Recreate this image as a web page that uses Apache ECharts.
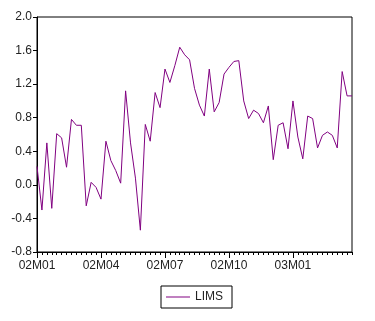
<!DOCTYPE html>
<html>
<head>
<meta charset="utf-8">
<script src="https://cdn.jsdelivr.net/npm/echarts@6/dist/echarts.min.js"></script>
<style>
  html, body { margin: 0; padding: 0; background: #fff; }
  #chart { width: 375px; height: 321px; }
</style>
</head>
<body>
<div id="chart"></div>
<script>
// weekly observations, 2002 week 1 .. 2003 week 13
const weeks = [];
for (let i = 0; i < 65; i++) weeks.push('w' + i);

const labelIdx = [0, 13, 26, 39, 52];
const tickLabels = ['02M01', '02M04', '02M07', '02M10', '03M01'];

const lims = [
    0.22, -0.30, 0.50, -0.28, 0.61, 0.56, 0.21, 0.78, 0.71, 0.71,
    -0.25, 0.03, -0.03, -0.17, 0.52, 0.29, 0.17, 0.02, 1.12, 0.50,
    0.08, -0.54, 0.72, 0.52, 1.10, 0.92, 1.38, 1.22, 1.42, 1.64,
    1.55, 1.49, 1.15, 0.95, 0.82, 1.38, 0.87, 0.98, 1.32, 1.40,
    1.47, 1.48, 1.00, 0.79, 0.89, 0.85, 0.74, 0.94, 0.30, 0.71,
    0.74, 0.43, 1.00, 0.57, 0.31, 0.82, 0.79, 0.44, 0.59, 0.63,
    0.59, 0.44, 1.35, 1.06, 1.06
];

const chart = echarts.init(document.getElementById('chart'));
const font = 'Liberation Sans, Arial, sans-serif';

chart.setOption({
    animation: false,
    grid: {
        left: 37, right: 23, top: 17, height: 235,
        show: true, borderColor: '#000', borderWidth: 1
    },
    legend: {
        data: ['LIMS'],
        left: 161, top: 286,
        itemWidth: 24, itemHeight: 1,
        itemGap: 6,
        padding: [5, 9, 5, 5],
        borderColor: '#000', borderWidth: 1, borderRadius: 0,
        icon: 'rect',
        textStyle: { fontFamily: font, fontSize: 12, color: '#222' }
    },
    xAxis: [
        {
            type: 'category',
            data: weeks,
            boundaryGap: false,
            axisLine: { onZero: false, lineStyle: { color: '#000' } },
            axisTick: { interval: 0, length: 3, lineStyle: { color: '#000' } },
            axisLabel: {
                interval: (i) => labelIdx.includes(i),
                formatter: (v, i) => tickLabels[labelIdx.indexOf(i)] || '',
                margin: 8,
                fontFamily: font, fontSize: 12, color: '#222'
            },
            splitLine: { show: false }
        },
        {
            type: 'category',
            data: weeks,
            boundaryGap: false,
            position: 'bottom',
            axisLine: { show: false, onZero: false },
            axisTick: {
                interval: (i) => labelIdx.includes(i),
                length: 6, lineStyle: { color: '#000' }
            },
            axisLabel: { show: false },
            splitLine: { show: false }
        }
    ],
    yAxis: {
        type: 'value',
        min: -0.8, max: 2.0, interval: 0.4,
        axisLine: { show: true, lineStyle: { color: '#000' } },
        axisTick: { show: true, length: 4, lineStyle: { color: '#000' } },
        axisLabel: {
            formatter: (v) => v.toFixed(1),
            margin: 5,
            fontFamily: font, fontSize: 12, color: '#222'
        },
        splitLine: { show: false }
    },
    series: [
        {
            name: 'LIMS',
            type: 'line',
            data: lims,
            symbol: 'none',
            lineStyle: { color: '#800080', width: 1 },
            itemStyle: { color: '#800080' }
        }
    ]
});
</script>
</body>
</html>
